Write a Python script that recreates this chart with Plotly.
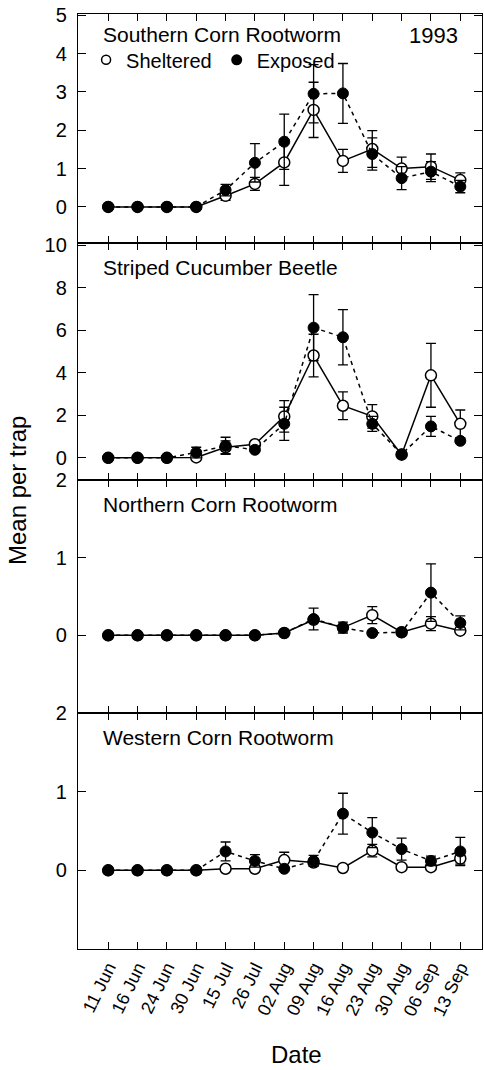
import plotly.graph_objects as go
from plotly.subplots import make_subplots

dates = ["11 Jun", "16 Jun", "24 Jun", "30 Jun", "15 Jul", "26 Jul", "02 Aug",
         "09 Aug", "16 Aug", "23 Aug", "30 Aug", "06 Sep", "13 Sep"]

panel_names = ["Southern Corn Rootworm", "Striped Cucumber Beetle",
               "Northern Corn Rootworm", "Western Corn Rootworm"]

scr_sheltered = [0, 0, 0, 0, 0.29, 0.6, 1.16, 2.53, 1.2, 1.51, 1.0, 1.05, 0.7]
scr_sheltered_err = [None, None, None, None, 0.12, 0.17, 0.6, 0.72, 0.3, 0.48, 0.3, 0.33, 0.19]
scr_exposed = [0, 0, 0, 0, 0.44, 1.15, 1.7, 2.95, 2.96, 1.38, 0.75, 0.92, 0.53]
scr_exposed_err = [None, None, None, None, 0.15, 0.5, 0.72, 0.76, 0.78, 0.42, 0.3, 0.26, 0.16]

scb_sheltered = [0, 0, 0, 0.02, 0.5, 0.64, 1.95, 4.81, 2.45, 1.95, 0.15, 3.88, 1.6]
scb_sheltered_err = [None, None, None, None, 0.3, None, 0.74, 1.0, 0.65, 0.55, None, 1.5, 0.65]
scb_exposed = [0, 0, 0, 0.25, 0.57, 0.38, 1.6, 6.12, 5.67, 1.6, 0.17, 1.48, 0.8]
scb_exposed_err = [None, None, None, 0.25, 0.4, None, 0.78, 1.55, 1.3, 0.35, None, 0.47, None]

ncr_sheltered = [0, 0, 0, 0, 0, 0, 0.03, 0.2, 0.1, 0.26, 0.04, 0.15, 0.06]
ncr_sheltered_err = [None, None, None, None, None, None, None, None, None, 0.11, None, 0.09, None]
ncr_exposed = [0, 0, 0, 0, 0, 0, 0.03, 0.21, 0.1, 0.03, 0.04, 0.55, 0.16]
ncr_exposed_err = [None, None, None, None, None, None, None, 0.14, 0.07, None, None, 0.37, 0.09]

wcr_sheltered = [0, 0, 0, 0, 0.02, 0.02, 0.13, 0.1, 0.03, 0.25, 0.04, 0.04, 0.15]
wcr_sheltered_err = [None, None, None, None, None, None, 0.1, None, None, 0.08, None, None, 0.07]
wcr_exposed = [0, 0, 0, 0, 0.24, 0.12, 0.02, 0.12, 0.72, 0.48, 0.27, 0.12, 0.24]
wcr_exposed_err = [None, None, None, None, 0.12, 0.08, None, 0.07, 0.26, 0.19, 0.14, 0.06, 0.18]

panels = [
    (scr_sheltered, scr_sheltered_err, scr_exposed, scr_exposed_err),
    (scb_sheltered, scb_sheltered_err, scb_exposed, scb_exposed_err),
    (ncr_sheltered, ncr_sheltered_err, ncr_exposed, ncr_exposed_err),
    (wcr_sheltered, wcr_sheltered_err, wcr_exposed, wcr_exposed_err),
]

y_ranges = [[-0.94, 5.03], [-1.04, 10.1], [-1.0, 2.0], [-1.0, 2.0]]
y_ticks = [[0, 1, 2, 3, 4, 5], [0, 2, 4, 6, 8, 10], [0, 1, 2], [0, 1, 2]]
domains = [[0.7551, 1.0], [0.5016, 0.7551], [0.2524, 0.5016], [0.0, 0.2524]]

FONT = "Liberation Sans, Arial, Helvetica, sans-serif"

fig = make_subplots(rows=4, cols=1, shared_xaxes=True, vertical_spacing=0)

for i, (sh, sh_err, ex, ex_err) in enumerate(panels):
    r = i + 1
    fig.add_trace(go.Scatter(
        x=dates, y=sh, mode="lines+markers", name="Sheltered", showlegend=False,
        line=dict(color="black", width=1.5),
        marker=dict(symbol="circle", size=11, color="white",
                    line=dict(color="black", width=1.5)),
        error_y=dict(type="data", array=sh_err, visible=True, color="black",
                     thickness=1.3, width=5),
    ), row=r, col=1)
    fig.add_trace(go.Scatter(
        x=dates, y=ex, mode="lines+markers", name="Exposed", showlegend=False,
        line=dict(color="black", width=1.5, dash="4px,4px"),
        marker=dict(symbol="circle", size=11, color="black",
                    line=dict(color="black", width=1)),
        error_y=dict(type="data", array=ex_err, visible=True, color="black",
                     thickness=1.3, width=5),
    ), row=r, col=1)

# legend-only entries (markers only, like the reference key)
fig.add_trace(go.Scatter(x=[None], y=[None], mode="markers", name="Sheltered",
                         marker=dict(symbol="circle", size=9, color="white",
                                     line=dict(color="black", width=1.5))),
              row=1, col=1)
fig.add_trace(go.Scatter(x=[None], y=[None], mode="markers", name="Exposed",
                         marker=dict(symbol="circle", size=11, color="black")),
              row=1, col=1)

for i in range(4):
    r = i + 1
    fig.update_yaxes(
        row=r, col=1, range=y_ranges[i], tickvals=y_ticks[i],
        domain=domains[i], ticks="inside", ticklen=8, tickwidth=1.3,
        tickcolor="black", showline=True, linecolor="black", linewidth=1.3,
        mirror="ticks", showgrid=False, zeroline=False,
        tickfont=dict(family=FONT, size=20, color="black"),
        ticklabelstandoff=6,
    )
    fig.update_xaxes(
        row=r, col=1, type="category", range=[-1.03, 12.74],
        ticks="inside", ticklen=7, tickwidth=1.3, tickcolor="black",
        showline=True, linecolor="black", linewidth=1.0, mirror="ticks",
        showgrid=False, zeroline=False,
        showticklabels=(r == 4), tickangle=-64,
        tickfont=dict(family=FONT, size=18, color="black"),
    )

annotations = []
for i, name in enumerate(panel_names):
    ax = "" if i == 0 else str(i + 1)
    annotations.append(dict(
        text=name, xref=f"x{ax} domain", yref=f"y{ax} domain",
        x=0.056, y=1, xanchor="left", yanchor="top",
        yshift=-(7 if i == 0 else 11), showarrow=False,
        font=dict(family=FONT, size=21, color="black"),
    ))
annotations.append(dict(
    text="1993", xref="x domain", yref="y domain", x=0.945, y=1,
    xanchor="right", yanchor="top", yshift=-7, showarrow=False,
    font=dict(family=FONT, size=22, color="black"),
))
annotations.append(dict(
    text="Mean per trap", xref="paper", yref="paper", x=-0.148, y=0.49,
    xanchor="center", yanchor="middle", textangle=-90, showarrow=False,
    font=dict(family=FONT, size=24, color="black"),
))
annotations.append(dict(
    text="Date", xref="paper", yref="paper", x=0.54, y=-0.113,
    xanchor="center", yanchor="middle", showarrow=False,
    font=dict(family=FONT, size=24, color="black"),
))

fig.update_layout(
    width=484, height=1070,
    margin=dict(l=78, r=2, t=14, b=121),
    paper_bgcolor="white", plot_bgcolor="white",
    showlegend=True,
    legend=dict(orientation="h", x=0.02, y=0.951, xanchor="left", yanchor="middle",
                bgcolor="rgba(0,0,0,0)", borderwidth=0,
                font=dict(family=FONT, size=20, color="black"),
                itemwidth=30, tracegroupgap=0),
    annotations=annotations,
)

fig.write_html("out.html", config={"displayModeBar": False},
               post_script="document.body.style.margin='0px';")
